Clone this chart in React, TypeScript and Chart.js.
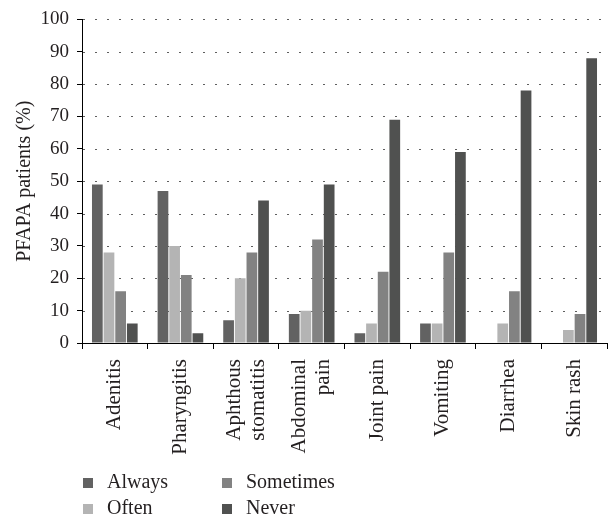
import React, { useEffect, useRef } from "react";
import { Chart, registerables } from "chart.js";

Chart.register(...registerables);

const categories: string[][] = [
  ["Adenitis"],
  ["Pharyngitis"],
  ["Aphthous", "stomatitis"],
  ["Abdominal", "pain"],
  ["Joint pain"],
  ["Vomiting"],
  ["Diarrhea"],
  ["Skin rash"],
];
const always = [49, 47, 7, 9, 3, 6, 0, 0];
const often = [28, 30, 20, 10, 6, 6, 6, 4];
const sometimes = [16, 21, 28, 32, 22, 28, 16, 9];
const never = [6, 3, 44, 49, 69, 59, 78, 88];

const seriesNames = ["Always", "Often", "Sometimes", "Never"];
const seriesColors = ["#626262", "#b4b4b4", "#828282", "#505150"];
const legendOrder = [0, 2, 1, 3]; // row-major: Always, Sometimes / Often, Never

const FONT = "'Liberation Serif', 'Times New Roman', serif";
const TEXT = "#231f20";

// dotted horizontal grid lines
const dottedGridPlugin = {
  id: "dottedGrid",
  beforeDatasetsDraw(chart: any) {
    const ys = chart.scales.y;
    const { left, right } = chart.chartArea;
    const ctx = chart.ctx;
    ctx.save();
    ctx.strokeStyle = "#5e5e5e";
    ctx.lineWidth = 1;
    ctx.setLineDash([2, 10]);
    ctx.lineDashOffset = -1;
    ys.ticks.forEach((t: any) => {
      if (t.value <= 0) return;
      const y = Math.round(ys.getPixelForValue(t.value)) + 0.5;
      ctx.beginPath();
      ctx.moveTo(left, y);
      ctx.lineTo(right, y);
      ctx.stroke();
    });
    ctx.restore();
  },
};

// rotated, centred multi-line category labels
const xLabelPlugin = {
  id: "xLabels",
  afterDraw(chart: any) {
    const xs = chart.scales.x;
    const ctx = chart.ctx;
    const lh = 24;
    const yTop = xs.top + 16;
    ctx.save();
    ctx.font = `21px ${FONT}`;
    ctx.fillStyle = TEXT;
    ctx.textAlign = "right";
    ctx.textBaseline = "middle";
    (chart.data.labels as string[][]).forEach((lines, i) => {
      const cx = xs.getPixelForTick(i);
      const n = lines.length;
      lines.forEach((line, j) => {
        const x = cx + (j - (n - 1) / 2) * lh;
        ctx.save();
        ctx.translate(x, yTop);
        ctx.rotate(-Math.PI / 2);
        ctx.fillText(line, 0, 0);
        ctx.restore();
      });
    });
    ctx.restore();
  },
};

const legendPlugin = {
  id: "gridLegend",
  afterDraw(chart: any) {
    const ctx = chart.ctx;
    ctx.save();
    ctx.font = `20px ${FONT}`;
    ctx.textBaseline = "middle";
    ctx.textAlign = "left";
    const colX = [83, 222];
    const rowY = [483, 508.5];
    legendOrder.forEach((dsIndex, i) => {
      const ds = chart.data.datasets[dsIndex];
      const x = colX[i % 2];
      const y = rowY[Math.floor(i / 2)];
      ctx.fillStyle = ds.backgroundColor;
      ctx.fillRect(x, Math.round(y - 5), 10, 10);
      ctx.fillStyle = TEXT;
      ctx.fillText(ds.label, x + 24, y);
    });
    ctx.restore();
  },
};

export default function App() {
  const ref = useRef<HTMLCanvasElement>(null);
  useEffect(() => {
    if (!ref.current) return;
    const values = [always, often, sometimes, never];
    const chart = new Chart(ref.current, {
      type: "bar",
      data: {
        labels: categories,
        datasets: values.map((v, i) => ({
          label: seriesNames[i],
          data: v,
          backgroundColor: seriesColors[i],
          borderWidth: 0,
          barPercentage: 0.92,
          categoryPercentage: 0.71,
        })),
      },
      options: {
        animation: false,
        responsive: true,
        maintainAspectRatio: false,
        layout: { padding: { left: 0, right: 4, top: 7, bottom: 172 } },
        plugins: {
          legend: { display: false },
          tooltip: { enabled: false },
        },
        scales: {
          x: {
            offset: true,
            grid: {
              offset: true,
              drawOnChartArea: false,
              drawTicks: true,
              tickLength: 6,
              tickColor: "#000",
            },
            border: { display: true, color: "#000", width: 1 },
            ticks: { display: false },
          },
          y: {
            min: 0,
            max: 100,
            afterFit: (scale: any) => {
              scale.width = 82;
            },
            ticks: {
              stepSize: 10,
              color: TEXT,
              font: { family: FONT, size: 19 },
              padding: 8,
            },
            grid: {
              drawOnChartArea: false,
              drawTicks: true,
              tickLength: 5,
              tickColor: "#000",
              tickWidth: 1,
            },
            border: { display: true, color: "#000", width: 1 },
            title: {
              display: true,
              text: "PFAPA patients (%)",
              color: TEXT,
              font: { family: FONT, size: 20 },
              padding: { top: 13, bottom: 0 },
            },
          },
        },
      },
      plugins: [dottedGridPlugin, xLabelPlugin, legendPlugin],
    });
    return () => chart.destroy();
  }, []);

  return (
    <div style={{ position: "absolute", left: 0, top: 0, width: 611, height: 521 }}>
      <canvas ref={ref} />
    </div>
  );
}
